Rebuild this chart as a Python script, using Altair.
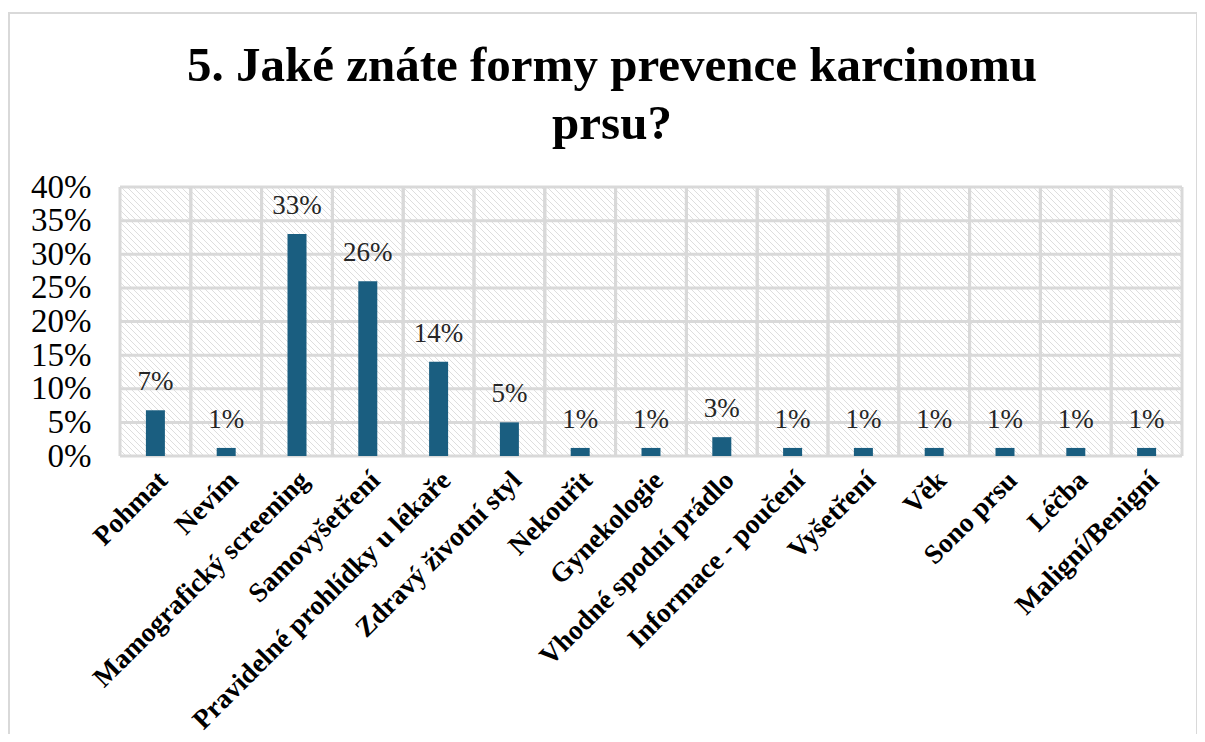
import altair as alt
import pandas as pd

categories = ["Pohmat", "Nevím", "Mamografický screening", "Samovyšetření",
              "Pravidelné prohlídky u lékaře", "Zdravý životní styl", "Nekouřit",
              "Gynekologie", "Vhodné spodní prádlo", "Informace - poučení",
              "Vyšetření", "Věk", "Sono prsu", "Léčba", "Maligní/Benigní"]
values_pct = [6.8, 1.2, 33.0, 26.0, 14.0, 5.0, 1.2, 1.2, 2.8, 1.2, 1.2, 1.2, 1.2, 1.2, 1.2]
y_ticks = [0.0, 0.05, 0.10, 0.15, 0.20, 0.25, 0.30, 0.35, 0.40]
title_lines = ["5. Jaké znáte formy prevence karcinomu", "prsu?"]

W, H = 1062, 269
SERIF = "Liberation Serif"
GRID = "#d9d9d9"
BAR = "#1a5e80"

df = pd.DataFrame({"cat": categories, "share": [v / 100 for v in values_pct]})
grid_df = pd.DataFrame({"share": y_ticks})

x_axis = alt.Axis(orient="bottom", title=None, ticks=False, domain=False, grid=False,
                  labelAngle=-45, labelAlign="right", labelBaseline="top",
                  labelFont=SERIF, labelFontSize=27.5, labelFontWeight="bold",
                  labelColor="#000000", labelPadding=10, labelOffset=-2, labelLimit=0)
y_axis = alt.Axis(orient="left", title=None, ticks=False, domain=False, grid=False,
                  values=y_ticks, format=".0%", labelFont=SERIF, labelFontSize=33,
                  labelColor="#000000", labelPadding=29)
x_scale = alt.Scale(domain=categories, paddingInner=0, paddingOuter=0)
y_scale = alt.Scale(domain=[0, 0.4], nice=False, zero=True)

def X(**kw):
    return alt.X("cat:N", sort=categories, scale=x_scale, axis=x_axis, **kw)

def Y():
    return alt.Y("share:Q", scale=y_scale, axis=y_axis)

# hatched plot background (decoration), independent pixel scales
hatch = alt.Chart(alt.sequence(start=-H, stop=W + 6, step=6, as_="t")).transform_calculate(
    t2=f"datum.t + {H}", ya=f"{H}", yb="0"
).mark_rule(color="#dedede", strokeWidth=1, clip=True).encode(
    x=alt.X("t:Q", scale=alt.Scale(domain=[0, W], nice=False, zero=False), axis=None),
    x2="t2:Q",
    y=alt.Y("ya:Q", scale=alt.Scale(domain=[0, H], nice=False), axis=None),
    y2="yb:Q",
)

hgrid = alt.Chart(grid_df).mark_rule(color=GRID, strokeWidth=3).encode(y=Y())
vgrid0 = alt.Chart(df).mark_rule(color=GRID, strokeWidth=3).encode(x=X(bandPosition=0))
vgrid1 = alt.Chart(df).mark_rule(color=GRID, strokeWidth=3).encode(x=X(bandPosition=1))
bars = alt.Chart(df).mark_bar(color=BAR, size=19).encode(x=X(), y=Y())
labels = alt.Chart(df).mark_text(font=SERIF, fontSize=27, color="#262626",
                                 baseline="alphabetic", dy=-20).encode(
    x=X(), y=Y(), text=alt.Text("share:Q", format=".0%"))

border = alt.Chart(pd.DataFrame({"k": [0]})).mark_rect(
    fill="transparent", stroke="#d9d9d9", strokeWidth=2).encode(
    x=alt.value(-111), x2=alt.value(1077), y=alt.value(-174), y2=alt.value(700))

main = alt.layer(hgrid, vgrid0, vgrid1, bars, labels)

chart = alt.layer(hatch, main, border).resolve_scale(
    x="independent", y="independent"
).properties(
    width=W, height=H,
    autosize=alt.AutoSizeParams(type="none"),
    padding={"left": 112, "top": 179, "right": 15, "bottom": 278},
    title=alt.Title(text=title_lines, font=SERIF, fontSize=49, fontWeight="bold",
                    color="#000000", anchor="middle", dx=-39, offset=-137,
                    lineHeight=58),
).configure_view(stroke=None)

chart.save("out.html", embed_options={"renderer": "svg", "actions": False})
